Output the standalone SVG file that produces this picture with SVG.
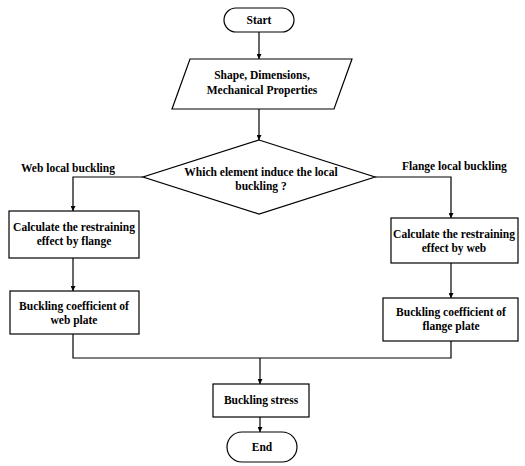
<svg xmlns="http://www.w3.org/2000/svg" width="525" height="466" viewBox="0 0 525 466">
<defs>
<marker id="ah" viewBox="0 0 8 8" refX="8" refY="4" markerWidth="5" markerHeight="5" orient="auto" markerUnits="userSpaceOnUse">
<path d="M0,0 L8,4 L0,8 z" fill="#000"/>
</marker>
</defs>
<style>
.s{fill:#fff;stroke:#000;stroke-width:1.2}
.c{fill:none;stroke:#000;stroke-width:1.2}
.t{font-family:"Liberation Serif","Times New Roman",serif;font-weight:bold;font-size:11.5px;fill:#000;text-anchor:middle}
.l{font-family:"Liberation Serif","Times New Roman",serif;font-weight:bold;font-size:11.5px;fill:#000}
</style>
<rect width="525" height="466" fill="#fff"/>
<g id="connectors">
<path class="c" d="M259,32 V59" marker-end="url(#ah)"/>
<path class="c" d="M259,109 V140" marker-end="url(#ah)"/>
<path class="c" d="M143,177 H73 V211" marker-end="url(#ah)"/>
<path class="c" d="M375,177 H451 V218" marker-end="url(#ah)"/>
<path class="c" d="M73,258 V291" marker-end="url(#ah)"/>
<path class="c" d="M451,263 V298" marker-end="url(#ah)"/>
<path class="c" d="M73,334 V358 H451 V341"/>
<path class="c" d="M260,358 V384" marker-end="url(#ah)"/>
<path class="c" d="M260,417 V432" marker-end="url(#ah)"/>
<text class="l" x="21" y="172">Web local buckling</text>
<text class="l" x="402" y="170">Flange local buckling</text>
</g>
<g id="start">
<rect class="s" x="224" y="8" width="70" height="24" rx="12"/>
<text class="t" x="259" y="24">Start</text>
</g>
<g id="input">
<path class="s" d="M190,59 H352 L334,109 H172 Z"/>
<text class="t" x="262" y="79">Shape, Dimensions,</text>
<text class="t" x="262" y="94">Mechanical Properties</text>
</g>
<g id="decision">
<path class="s" d="M259,140 L375,177 L259,214 L143,177 Z"/>
<text class="t" x="261" y="176">Which element induce the local</text>
<text class="t" x="261" y="190">buckling ?</text>
</g>
<g id="web-restrain">
<rect class="s" x="9" y="211" width="130" height="47"/>
<text class="t" x="74" y="231">Calculate the restraining</text>
<text class="t" x="74" y="245">effect by flange</text>
</g>
<g id="flange-restrain">
<rect class="s" x="391" y="218" width="127" height="45"/>
<text class="t" x="454" y="238">Calculate the restraining</text>
<text class="t" x="454" y="252">effect by web</text>
</g>
<g id="web-coef">
<rect class="s" x="10" y="291" width="129" height="43"/>
<text class="t" x="74" y="310">Buckling coefficient of</text>
<text class="t" x="74" y="324">web plate</text>
</g>
<g id="flange-coef">
<rect class="s" x="383" y="298" width="135" height="43"/>
<text class="t" x="451" y="316">Buckling coefficient of</text>
<text class="t" x="451" y="330">flange plate</text>
</g>
<g id="stress">
<rect class="s" x="213" y="384" width="96" height="33"/>
<text class="t" x="261" y="404">Buckling stress</text>
</g>
<g id="end">
<rect class="s" x="227" y="432" width="70" height="30" rx="15"/>
<text class="t" x="262" y="451">End</text>
</g>
</svg>
